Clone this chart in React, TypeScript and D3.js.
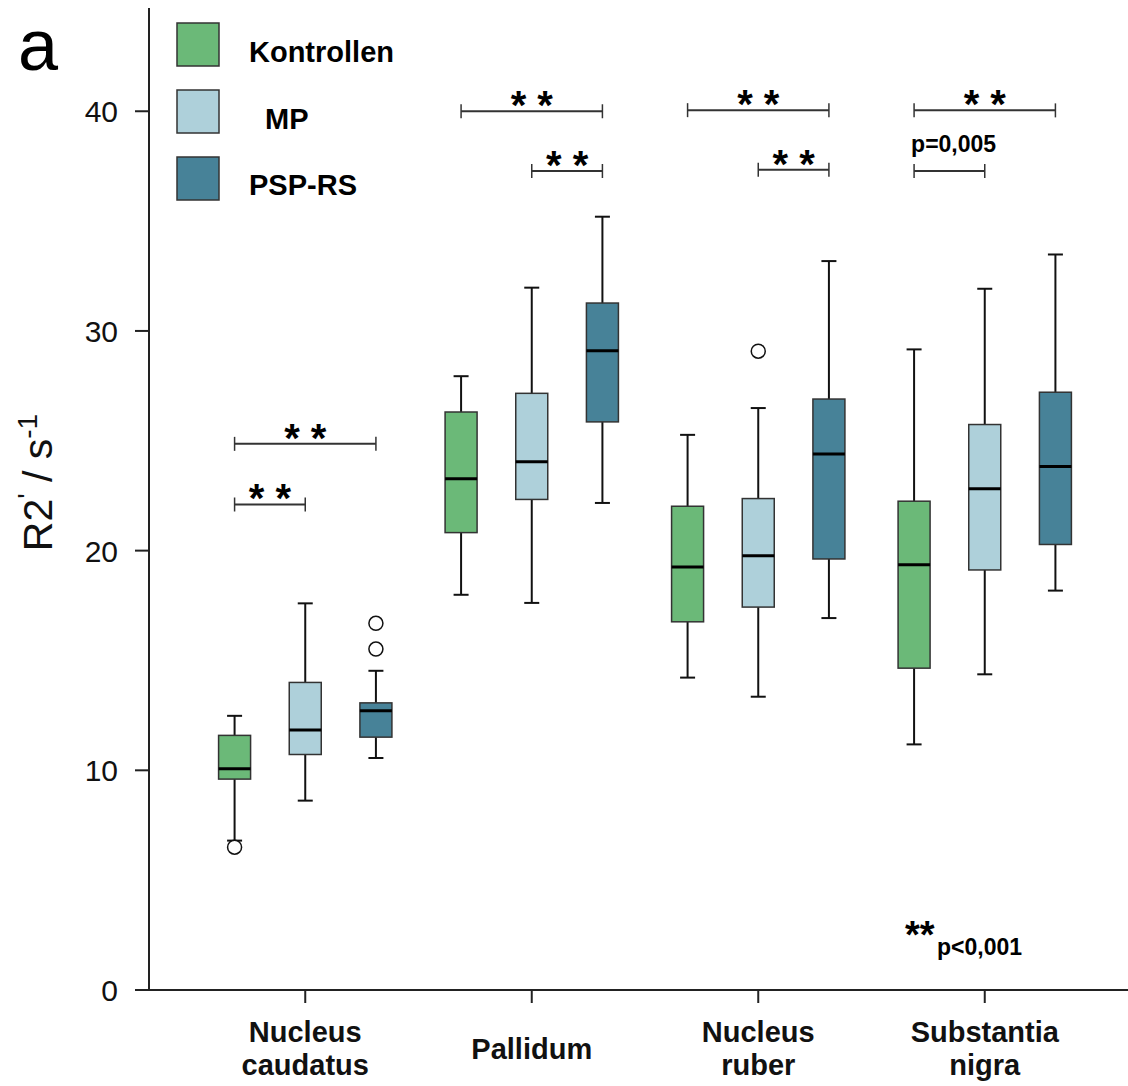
import React from "react";
import * as d3 from "d3";

const regions = ["Nucleus caudatus", "Pallidum", "Nucleus ruber", "Substantia nigra"];
const regionLines = [["Nucleus", "caudatus"], ["Pallidum"], ["Nucleus", "ruber"], ["Substantia", "nigra"]];
const groups = ["Kontrollen", "MP", "PSP-RS"];
const groupColors = ["#6bb978", "#aed0da", "#478298"];

// [whisker low, q1, median, q3, whisker high] per region
const kontrollenStats = [
  [6.8, 9.6, 10.07, 11.59, 12.48],
  [17.99, 20.82, 23.27, 26.31, 27.94],
  [14.22, 16.76, 19.25, 22.02, 25.27],
  [11.18, 14.65, 19.36, 22.25, 29.16],
];
const mpStats = [
  [8.62, 10.72, 11.83, 14.0, 17.6],
  [17.62, 22.33, 24.04, 27.16, 31.97],
  [13.35, 17.43, 19.77, 22.37, 26.49],
  [14.37, 19.12, 22.82, 25.74, 31.92],
];
const pspStats = [
  [10.56, 11.51, 12.71, 13.07, 14.53],
  [22.17, 25.86, 29.1, 31.27, 35.2],
  [16.93, 19.62, 24.4, 26.9, 33.18],
  [18.18, 20.28, 23.83, 27.21, 33.48],
];
const allStats = [kontrollenStats, mpStats, pspStats];

// [region, group, value]
const outliers = [
  [0, 0, 6.5],
  [0, 2, 15.52],
  [0, 2, 16.69],
  [2, 1, 29.08],
];

// [region, from group, to group, y value, label]
const brackets: [number, number, number, number, string][] = [
  [0, 0, 1, 22.1, "* *"],
  [0, 0, 2, 24.86, "* *"],
  [1, 0, 2, 40.0, "* *"],
  [1, 1, 2, 37.28, "* *"],
  [2, 0, 2, 40.05, "* *"],
  [2, 1, 2, 37.34, "* *"],
  [3, 0, 2, 40.04, "* *"],
  [3, 0, 1, 37.28, "p=0,005"],
];

const yTicks = [0, 10, 20, 30, 40];

const W = 1128;
const H = 1086;
const axisX = 149;
const font = "Liberation Sans, Arial, Helvetica, sans-serif";

export default function App() {
  const y = d3.scaleLinear().domain([0, 44.7]).range([990, 8]);
  const x = d3.scaleBand().domain(regions).range([192, 1098]).padding(0);
  const inner = d3.scaleBand().domain(groups).range([-106, 106]).padding(0);
  const cx = (r: number, g: number) =>
    (x(regions[r]) as number) + x.bandwidth() / 2 + (inner(groups[g]) as number) + inner.bandwidth() / 2;
  const boxW = 32;
  const capW = 15;

  return (
    <svg width={W} height={H} style={{ position: "absolute", left: 0, top: 0, background: "#fff" }} fontFamily={font}>
      {/* panel letter */}
      <text x={18} y={70} fontSize={72} fill="#000">a</text>

      {/* y axis */}
      <line x1={axisX} x2={axisX} y1={8} y2={y(0)} stroke="#222" strokeWidth={2} />
      {yTicks.map((t) => (
        <g key={t}>
          <line x1={135} x2={axisX} y1={y(t)} y2={y(t)} stroke="#222" strokeWidth={2} />
          <text x={118} y={y(t) + 11} fontSize={30} textAnchor="end" fill="#111">{t}</text>
        </g>
      ))}
      <text transform={`translate(52,${y(23.1)}) rotate(-90)`} fontSize={41} textAnchor="middle" fill="#111">
        R2<tspan fontSize={28} dy={-15}>'</tspan><tspan fontSize={41} dy={15}> / s</tspan>
        <tspan fontSize={28} dy={-15}>-1</tspan>
      </text>

      {/* x axis */}
      <line x1={135} x2={W} y1={y(0)} y2={y(0)} stroke="#222" strokeWidth={2} />
      {regions.map((r, i) => {
        const c = (x(r) as number) + x.bandwidth() / 2;
        const lines = regionLines[i];
        return (
          <g key={r}>
            <line x1={c} x2={c} y1={y(0)} y2={y(0) + 13} stroke="#222" strokeWidth={2} />
            {lines.map((l, k) => (
              <text key={k} x={c} y={lines.length === 1 ? 1059 : 1042 + k * 33} fontSize={29}
                fontWeight="bold" textAnchor="middle" fill="#111">{l}</text>
            ))}
          </g>
        );
      })}

      {/* boxes */}
      {allStats.map((stats, g) =>
        stats.map((s, r) => {
          const c = cx(r, g);
          const [lo, q1, med, q3, hi] = s;
          return (
            <g key={`${g}-${r}`}>
              <line x1={c} x2={c} y1={y(hi)} y2={y(q3)} stroke="#111" strokeWidth={2} />
              <line x1={c} x2={c} y1={y(q1)} y2={y(lo)} stroke="#111" strokeWidth={2} />
              <line x1={c - capW / 2} x2={c + capW / 2} y1={y(hi)} y2={y(hi)} stroke="#111" strokeWidth={2} />
              <line x1={c - capW / 2} x2={c + capW / 2} y1={y(lo)} y2={y(lo)} stroke="#111" strokeWidth={2} />
              <rect x={c - boxW / 2} y={y(q3)} width={boxW} height={y(q1) - y(q3)}
                fill={groupColors[g]} stroke="#333" strokeWidth={1.5} />
              <line x1={c - boxW / 2} x2={c + boxW / 2} y1={y(med)} y2={y(med)} stroke="#000" strokeWidth={3} />
            </g>
          );
        })
      )}

      {/* outliers */}
      {outliers.map(([r, g, v], i) => (
        <circle key={i} cx={cx(r, g)} cy={y(v)} r={7} fill="#fff" stroke="#111" strokeWidth={1.5} />
      ))}

      {/* significance brackets */}
      {brackets.map(([r, a, b, v, label], i) => {
        const x1 = cx(r, a);
        const x2 = cx(r, b);
        const yy = y(v);
        const isStar = label.startsWith("*");
        return (
          <g key={i}>
            <line x1={x1} x2={x2} y1={yy} y2={yy} stroke="#333" strokeWidth={2} />
            <line x1={x1} x2={x1} y1={yy - 7} y2={yy + 7} stroke="#333" strokeWidth={1.5} />
            <line x1={x2} x2={x2} y1={yy - 7} y2={yy + 7} stroke="#333" strokeWidth={1.5} />
            {isStar ? (
              <text x={(x1 + x2) / 2} y={yy + 8} fontSize={40} fontWeight="bold" textAnchor="middle" fill="#000">{label}</text>
            ) : (
              <text x={x1 - 3} y={yy - 19} fontSize={23} fontWeight="bold" fill="#000">{label}</text>
            )}
          </g>
        );
      })}

      {/* note */}
      <text x={905} y={948} fontSize={38} fontWeight="bold" fill="#000">**</text>
      <text x={937} y={955} fontSize={23} fontWeight="bold" fill="#000">p&lt;0,001</text>

      {/* legend */}
      {groups.map((g, i) => (
        <g key={g}>
          <rect x={177} y={23 + i * 67} width={42} height={43} fill={groupColors[i]} stroke="#333" strokeWidth={1.5} />
          <text x={i === 1 ? 265 : 249} y={62 + i * 66.5} fontSize={29} fontWeight="bold" fill="#000">{g}</text>
        </g>
      ))}
    </svg>
  );
}
